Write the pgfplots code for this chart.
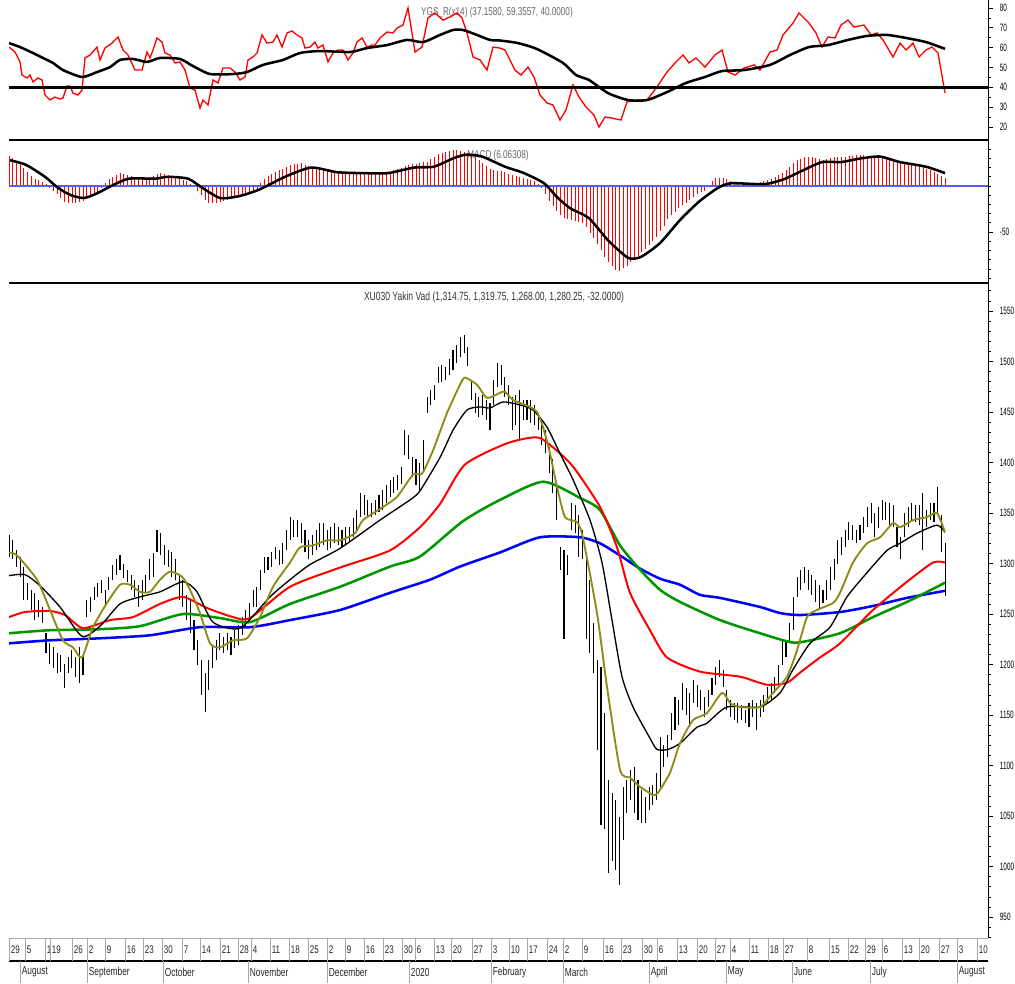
\documentclass[border=0pt]{standalone}
\usepackage{fontspec}
\setmainfont{Liberation Sans}[FakeStretch=0.72]
\newfontfamily\ticknarrow{Liberation Sans}[FakeStretch=0.6]
\usepackage{pgfplots}
\usepackage{pgfplotstable}
\pgfplotsset{compat=1.18}

\definecolor{olivema}{RGB}{140,140,20}
\definecolor{grnma}{RGB}{0,150,0}
\definecolor{zeroblue}{RGB}{90,90,255}

% daily bars: x (chart position), low, high, macd histogram
\pgfplotstableread{
x lo hi h
9.0 1306 1328 33
12.7 1304 1323 30
16.4 1297 1313 27
20.1 1287 1306 24
23.8 1264 1297 20
27.5 1264 1281 15
31.2 1254 1274 11
34.9 1244 1271 8
38.6 1247 1264 6
42.3 1241 1257 4
46.0 1211 1231 2
49.7 1201 1221 -2
53.4 1197 1217 -5
57.1 1192 1211 -9
60.8 1193 1209 -13
64.5 1177 1201 -17
68.2 1192 1207 -18
71.9 1197 1214 -18
75.6 1188 1207 -18
79.3 1182 1217 -17
83.0 1190 1209 -16
86.7 1247 1264 -14
90.4 1252 1267 -12
94.1 1264 1277 -9
97.8 1267 1281 -6
101.5 1271 1284 -2
105.2 1259 1274 3
108.9 1274 1287 8
112.6 1284 1299 10
116.3 1289 1304 12
120.0 1294 1308 14
123.7 1286 1300 13
127.4 1282 1294 12
131.1 1274 1289 11
134.8 1267 1284 10
138.5 1257 1279 9
142.2 1264 1284 8
145.9 1272 1289 9
149.6 1284 1304 10
153.3 1287 1310 11
157.0 1311 1333 13
160.7 1308 1330 14
164.4 1299 1318 13
168.1 1297 1313 12
171.8 1287 1311 11
175.5 1284 1304 10
179.2 1264 1289 8
182.9 1257 1284 6
186.6 1244 1269 5
190.3 1231 1264 2
194.0 1214 1244 -1
197.7 1200 1224 -5
201.4 1170 1205 -10
205.1 1153 1192 -15
208.8 1175 1205 -18
212.5 1197 1217 -18
216.2 1205 1224 -18
219.9 1214 1231 -17
223.6 1211 1227 -16
227.3 1214 1231 -15
231.0 1209 1227 -14
234.7 1216 1234 -13
238.4 1219 1239 -12
242.1 1229 1247 -10
245.8 1236 1254 -9
249.5 1244 1261 -7
253.2 1257 1274 -5
256.9 1257 1277 -3
260.6 1274 1294 3
264.3 1291 1306 8
268.0 1294 1306 11
271.7 1297 1311 13
275.4 1304 1316 15
279.1 1299 1313 17
282.8 1300 1320 19
286.5 1313 1333 21
290.2 1323 1346 23
293.9 1326 1343 24
297.6 1326 1343 24
301.3 1320 1340 25
305.0 1311 1333 23
308.7 1304 1323 22
312.4 1308 1328 21
316.1 1313 1333 20
319.8 1316 1340 19
323.5 1318 1340 18
327.2 1313 1333 17
330.9 1315 1336 16
334.6 1320 1340 15
338.3 1318 1336 15
342.0 1316 1333 15
345.7 1318 1336 15
349.4 1320 1336 14
353.1 1326 1345 14
356.8 1333 1353 14
360.5 1346 1370 14
364.2 1348 1368 14
367.9 1346 1363 14
371.6 1346 1360 14
375.3 1348 1363 14
379.0 1351 1368 14
382.7 1353 1373 14
386.4 1360 1378 14
390.1 1366 1383 15
393.8 1370 1386 17
397.5 1373 1388 18
401.2 1379 1396 20
404.9 1407 1432 22
408.6 1403 1427 23
412.3 1386 1405 24
416.0 1378 1403 24
419.7 1373 1400 25
423.4 1393 1422 26
427.1 1449 1465 26
430.8 1457 1472 29
434.5 1462 1477 32
438.2 1479 1495 35
441.9 1480 1497 36
445.6 1482 1495 37
449.3 1487 1502 38
453.0 1492 1511 39
456.7 1499 1516 39
460.4 1504 1524 38
464.1 1508 1526 37
467.8 1496 1514 36
471.5 1462 1482 33
475.2 1449 1469 31
478.9 1445 1465 28
482.6 1447 1467 25
486.3 1442 1462 22
490.0 1432 1459 19
493.7 1457 1482 17
497.4 1475 1499 16
501.1 1477 1497 16
504.8 1465 1485 15
508.5 1457 1477 13
512.2 1432 1465 12
515.9 1437 1467 11
519.6 1422 1472 10
523.3 1442 1462 9
527.0 1442 1462 8
530.7 1439 1462 7
534.4 1437 1457 5
538.1 1432 1449 2
541.8 1417 1442 -2
545.5 1409 1432 -9
549.2 1390 1415 -16
552.9 1370 1403 -22
556.6 1343 1376 -27
560.3 1294 1316 -32
564.0 1225 1313 -35
567.7 1289 1308 -36
571.4 1333 1360 -37
575.1 1330 1358 -38
578.8 1306 1348 -39
582.5 1304 1333 -40
586.2 1225 1306 -45
589.9 1211 1284 -51
593.6 1192 1241 -57
597.3 1115 1205 -63
601.0 1041 1198 -70
604.7 1037 1152 -77
608.4 994 1086 -83
612.1 1006 1073 -87
615.8 997 1066 -91
619.5 982 1049 -92
623.2 1026 1079 -89
626.9 1053 1086 -87
630.6 1066 1096 -83
634.3 1053 1099 -79
638.0 1046 1086 -76
641.7 1043 1076 -72
645.4 1043 1069 -68
649.1 1056 1079 -64
652.8 1061 1081 -60
656.5 1066 1093 -55
660.2 1079 1128 -49
663.9 1099 1120 -43
667.6 1108 1130 -36
671.3 1125 1152 -32
675.0 1135 1168 -28
678.7 1140 1165 -24
682.4 1155 1182 -21
686.1 1150 1177 -18
689.8 1138 1172 -15
693.5 1162 1185 -12
697.2 1158 1180 -9
700.9 1155 1175 -7
704.6 1148 1168 -5
708.3 1158 1175 0
712.0 1170 1187 5
715.7 1180 1198 9
719.4 1188 1205 9
723.1 1178 1195 9
726.8 1155 1175 8
730.5 1148 1165 5
734.2 1145 1162 3
737.9 1142 1162 1
741.6 1145 1160 1
745.3 1142 1155 2
749.0 1138 1162 2
752.7 1148 1165 2
756.4 1135 1162 3
760.1 1148 1165 4
763.8 1153 1170 5
767.5 1162 1178 6
771.2 1165 1182 8
774.9 1172 1188 10
778.6 1180 1200 12
782.3 1200 1224 14
786.0 1207 1224 17
789.7 1221 1241 21
793.4 1234 1267 25
797.1 1267 1287 28
800.8 1274 1294 29
804.5 1281 1297 31
808.2 1274 1294 32
811.9 1269 1289 31
815.6 1262 1284 30
819.3 1254 1279 29
823.0 1261 1274 28
826.7 1264 1284 29
830.4 1274 1297 30
834.1 1284 1304 31
837.8 1300 1323 32
841.5 1308 1326 32
845.2 1316 1333 32
848.9 1323 1341 33
852.6 1323 1338 33
856.3 1320 1333 34
860.0 1323 1338 34
863.7 1330 1346 34
867.4 1336 1356 33
871.1 1340 1360 32
874.8 1326 1350 31
878.5 1335 1356 30
882.2 1343 1363 30
885.9 1343 1361 29
889.6 1338 1360 28
893.3 1336 1358 27
897.0 1316 1336 26
900.7 1304 1326 26
904.4 1326 1350 25
908.1 1336 1356 24
911.8 1343 1360 24
915.5 1341 1358 23
919.2 1338 1358 23
922.9 1313 1370 21
926.6 1336 1353 19
930.3 1343 1360 17
934.0 1341 1360 15
937.7 1350 1376 13
941.4 1311 1348 11
945.1 1268 1320 9
}\barsdata

\pgfplotstableread{
x y
9 60.3
15 57.8
20 52.8
22 46.2
27 44.7
30 46.2
33 42.7
38 44.7
42 43.7
45 36.1
50 33.6
55 35.1
60 34.1
63 34.6
67 40.7
70 40.7
73 37.1
78 36.1
82 38.6
85 54.8
90 56.3
97 60.3
100 53.8
105 59.8
112 62.3
118 65.4
123 58.8
128 56.3
135 48.7
142 48.7
147 57.8
150 54.8
153 58.8
157 64.9
162 62.8
165 57.3
170 56.3
175 52.3
180 52.8
185 48.7
190 39.6
195 38.6
200 29.5
203 33.6
208 31.1
213 43.7
218 42.2
223 49.7
230 49.7
235 47.7
240 43.7
245 45.2
248 53.8
253 55.3
257 57.3
262 66.4
267 62.3
273 62.8
277 66.4
282 60.3
287 67.4
292 68.4
297 66.4
302 64.9
305 59.8
310 60.3
315 62.8
318 59.8
323 61.3
328 52.8
333 57.3
338 58.8
343 58.8
348 53.8
353 57.3
357 62.8
362 64.9
367 60.3
372 61.3
375 61.3
380 64.9
387 67.9
393 67.4
397 69.9
403 71.4
408 80.0
415 57.8
422 60.3
428 75.0
435 77.5
443 73.9
450 75.5
457 77.5
462 75.0
467 67.4
473 55.3
480 53.8
487 48.7
493 60.3
500 59.8
505 58.8
515 48.7
521 46.2
528 50.2
534 45.2
540 36.1
547 32.1
553 31.1
560 23.5
566 28.6
573 41.2
579 35.1
586 30.1
594 26.0
599 20.0
605 25.0
612 24.5
621 23.5
627 32.6
638 33.6
647 33.6
657 40.2
667 47.7
676 52.8
683 56.3
689 52.3
696 54.8
705 50.2
715 56.3
722 58.8
728 47.7
735 46.2
744 49.7
754 51.3
760 48.7
770 57.8
777 58.8
783 66.4
793 72.4
799 77.5
809 72.4
816 67.4
822 60.3
828 65.4
835 64.9
841 71.4
848 73.9
854 70.4
864 71.4
871 66.4
877 67.4
883 63.9
893 55.3
900 62.3
906 58.8
913 62.3
919 55.3
926 58.8
932 60.3
938 57.3
945 37.2
}\rsidata

\pgfplotstableread{
x y
9 62.3
20 60.3
33 57.3
43 54.8
53 52.3
63 48.7
82 45.2
97 47.7
110 50.2
120 53.8
133 54.3
147 52.8
160 54.8
180 54.3
193 50.7
210 46.7
233 46.7
247 47.7
263 51.3
283 53.8
300 57.3
320 58.3
350 57.8
367 59.8
387 61.3
407 63.9
423 62.8
440 66.4
453 68.9
463 68.9
477 66.4
490 63.9
500 63.6
518 62.3
537 59.3
563 52.3
576 46.2
589 43.7
608 37.1
628 33.6
647 33.6
667 37.6
686 42.2
705 45.2
722 48.2
744 48.7
770 51.3
790 56.3
809 60.3
828 61.3
848 63.9
867 65.9
887 66.4
906 64.9
926 62.8
945 59.4
}\rsimadata

\pgfplotstableread{
x y
10 28
26 23
45 10
58 -2
71 -10
84 -13
97 -8
113 1
129 8
155 8
168 10
188 8
201 -1
220 -13
239 -11
259 -4
285 10
311 20
337 15
362 14
388 14
414 20
434 21
453 30
466 34
482 32
505 21
524 14
544 3
557 -12
570 -24
589 -35
608 -59
628 -78
641 -77
660 -62
680 -37
699 -17
718 -2
731 3
764 2
783 7
803 17
822 26
841 26
861 30
880 32
900 26
926 21
945 14
}\macddata

\pgfplotstableread{
x y
9 1221
50 1224
100 1226
150 1229
200 1237
250 1237
290 1244
340 1254
390 1271
430 1284
460 1297
500 1311
540 1326
580 1326
600 1320
620 1308
640 1295
660 1285
680 1279
700 1269
720 1266
760 1257
780 1251
800 1249
840 1252
873 1258
907 1266
945 1273
}\mablue

\pgfplotstableread{
x y
9 1231
50 1234
100 1235
140 1238
183 1250
220 1246
250 1242
290 1260
340 1277
390 1297
420 1307
463 1342
500 1363
543 1381
580 1365
600 1353
620 1318
640 1294
660 1274
680 1262
720 1244
760 1231
787 1223
800 1222
840 1231
873 1247
907 1262
945 1281
}\magreen

\pgfplotstableread{
x y
9 1247
25 1252
50 1253
65 1249
83 1236
110 1244
133 1247
160 1260
183 1267
207 1256
233 1247
250 1246
290 1277
340 1296
390 1313
420 1336
440 1359
465 1398
507 1419
537 1425
553 1415
573 1396
600 1356
617 1316
630 1271
650 1234
667 1207
700 1193
740 1188
767 1180
787 1182
800 1192
820 1207
840 1221
873 1254
907 1282
933 1301
945 1301
}\mared

\pgfplotstableread{
x y
9 1288
25 1289
40 1278
60 1257
82 1228
100 1238
120 1260
140 1267
160 1272
183 1282
197 1272
213 1242
240 1236
270 1267
290 1284
310 1299
340 1315
380 1343
410 1363
420 1372
440 1405
453 1432
467 1452
480 1455
490 1454
503 1460
520 1457
533 1452
547 1435
560 1409
573 1383
590 1343
602 1301
612 1244
622 1188
633 1158
650 1127
657 1116
668 1116
680 1122
697 1138
707 1142
727 1158
760 1158
780 1172
793 1195
810 1221
830 1237
847 1267
867 1291
887 1313
900 1320
917 1330
937 1338
945 1331
}\mablack

\pgfplotstableread{
x y
9 1311
17 1308
37 1284
50 1254
63 1224
73 1217
82 1207
93 1237
107 1261
120 1279
130 1279
140 1272
150 1272
160 1284
170 1292
182 1287
190 1274
200 1251
210 1221
220 1217
233 1224
247 1226
260 1247
273 1277
290 1301
300 1316
313 1318
327 1323
340 1323
355 1330
363 1343
383 1356
397 1366
413 1388
422 1389
433 1412
447 1449
460 1477
465 1484
477 1477
487 1464
500 1469
505 1470
513 1462
530 1455
537 1450
543 1435
550 1409
557 1376
565 1346
577 1341
583 1325
597 1251
607 1178
620 1096
630 1088
640 1079
653 1071
658 1073
670 1093
680 1122
693 1145
707 1152
722 1172
730 1162
740 1158
760 1158
773 1172
787 1188
797 1214
807 1247
817 1254
833 1261
840 1271
853 1301
867 1320
880 1326
893 1340
900 1336
913 1343
927 1346
937 1350
945 1331
}\maolive

\pgfplotsset{panel/.style={
  scale only axis, width=734.25pt, xmin=9, xmax=988,
  axis x line=none, axis y line*=right,
  ytick pos=right, yticklabel pos=right,
  tick align=outside, major tick length=3.75pt, minor tick length=2.25pt,
  tick style={black, line width=0.5pt},
  axis line style={black, line width=0.75pt},
  yticklabel style={font=\ticknarrow\fontsize{8}{9}\selectfont, anchor=west, inner sep=0pt, xshift=5pt},
  /pgf/number format/assume math mode=true,
  /pgf/number format/1000 sep={},
}}

\begin{document}
\begin{tikzpicture}
\path[use as bounding box] (0,0) rectangle (761.25pt,-737.25pt);

\begin{scope}[x=0.75pt,y=-0.75pt]
\node[text=black!60, font=\fontsize{8.5}{9}\selectfont] at (497,13) {YGS\_R(x14) (37.1580, 59.3557, 40.0000)};
\node[text=black!60, font=\fontsize{8.5}{9}\selectfont] at (498,156) {MACD (6.06308)};
\node[text=black!80, font=\fontsize{8.9}{9}\selectfont] at (494,297) {XU030 Yakin Vad (1,314.75, 1,319.75, 1,268.00, 1,280.25, -32.0000)};
\end{scope}

% RSI panel
\begin{axis}[panel, at={(6.75pt,-105pt)}, anchor=south west, height=105pt,
  ymin=13.43, ymax=84.03, ytick={20,30,...,80}, minor tick num=1]
\addplot[red, line width=1pt] table {\rsidata};
\addplot[black, line width=1.9pt, smooth, tension=0.4] table {\rsimadata};
\addplot[black, line width=2.25pt] coordinates {(9,40) (988,40)};
\end{axis}

% MACD panel
\begin{axis}[panel, at={(6.75pt,-212.25pt)}, anchor=south west, height=106.5pt,
  ymin=-105.4, ymax=48.9, ytick={-50}, minor ytick={-100,-90,...,40}]
\addplot[ycomb, red, line width=0.6pt, mark=none] table[x=x, y=h] {\barsdata};
\addplot[zeroblue, line width=1.2pt] coordinates {(9,0) (988,0)};
\addplot[black, line width=1.9pt, smooth, tension=0.4] table {\macddata};
\end{axis}

% price panel
\begin{axis}[panel, at={(6.75pt,-703.5pt)}, anchor=south west, height=491.25pt,
  ymin=929.3, ymax=1577.7, ytick={950,1000,...,1550}, minor ytick={930,940,...,1570}]
\addplot[only marks, mark=*, mark size=0pt, mark options={draw=none, fill=none},
  error bars/.cd, y dir=plus, y explicit, error mark=none,
  error bar style={draw=black, line width=0.8pt}]
  table[x=x, y=lo, y error plus expr=\thisrow{hi}-\thisrow{lo}] {\barsdata};
\addplot[blue, line width=1.9pt, smooth, tension=0.4] table {\mablue};
\addplot[grnma, line width=1.9pt, smooth, tension=0.4] table {\magreen};
\addplot[red, line width=1.5pt, smooth, tension=0.4] table {\mared};
\addplot[black, line width=1pt, smooth, tension=0.4] table {\mablack};
\addplot[olivema, line width=1.4pt, smooth, tension=0.4] table {\maolive};
\end{axis}

\begin{scope}[x=0.75pt,y=-0.75pt]
\draw[black, line width=1.1pt] (9,140) -- (988,140);
\draw[black, line width=1.1pt] (9,283) -- (988,283);
\draw[black, line width=0.75pt] (988,0) -- (988,938);
\draw[black!35, line width=0.75pt] (9,938) -- (988,938);
\draw[black, line width=1.1pt] (9,961) -- (988,961);
\foreach \x/\d in {9/29,25/5,45/12,50/19,72/26,87/2,105/9,125/16,143/23,162/30,182/7,200/14,220/21,238/28,251/4,270/11,289/18,308/25,327/2,345/9,364/16,383/23,402/30,415/6,434/13,451/20,472/27,491/3,509/10,527/17,547/24,563/2,582/9,603/16,621/23,642/30,657/6,677/13,697/20,715/27,730/4,749/11,768/18,783/27,807/8,829/15,848/22,865/29,882/6,902/13,919/20,939/27,957/3,977/10}
{
  \draw[black!35, line width=0.75pt] (\x,938) -- (\x,961);
  \node[anchor=west, inner sep=0.6pt, fill=white, text=black!85, font=\fontsize{8.3}{9}\selectfont] at (\x+0.8,950) {\d};
}
\foreach \x/\m in {20/August,87/September,163/October,248/November,327/December,409/2020,491/February,563/March,649/April,726/May,792/June,870/July,957/August}
{
  \draw[black!35, line width=0.75pt] (\x,961) -- (\x,983);
  \node[anchor=west, inner sep=0.6pt, text=black!85, font=\fontsize{8.7}{9}\selectfont] at (\x+0.8,972) {\m};
}
\end{scope}
\end{tikzpicture}
\end{document}
